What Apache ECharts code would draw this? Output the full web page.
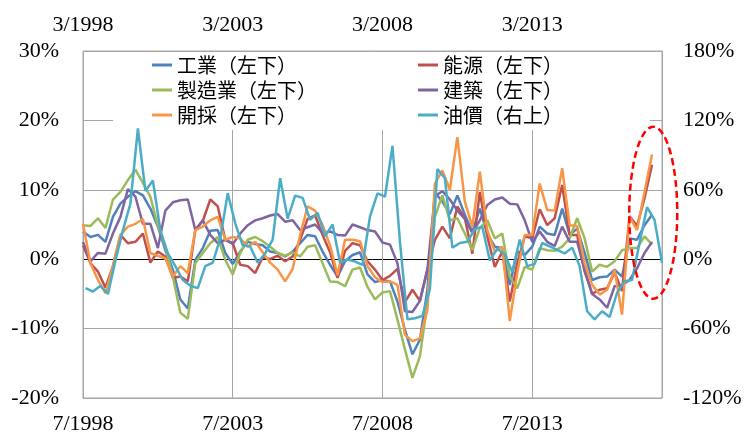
<!DOCTYPE html>
<html>
<head>
<meta charset="utf-8">
<script src="https://cdn.jsdelivr.net/npm/echarts@6/dist/echarts.min.js"></script>
<style>
  html, body { margin: 0; padding: 0; background: #fff; }
  #chart { width: 747px; height: 436px; }
</style>
</head>
<body>
<div id="chart"></div>
<script>
// Quarterly observation dates ("YYYY/M")
function quarterDates(year, month, count) {
  const out = [];
  for (let k = 0; k < count; k++) {
    out.push(year + '/' + month);
    month += 3;
    if (month > 12) { month -= 12; year += 1; }
  }
  return out;
}
const industryDates = quarterDates(1998, 7, 77); // 1998/7 .. 2017/7 (bottom axis)
const oilDates = quarterDates(1998, 4, 78);      // 1998/4 .. 2017/7 (top axis)

const bottomTickLabels = ['7/1998', '7/2003', '7/2008', '7/2013'];
const topTickLabels = ['3/1998', '3/2003', '3/2008', '3/2013'];

const seriesNames = ['工業（左下）', '能源（左下）', '製造業（左下）', '建築（左下）', '開採（左下）', '油價（右上）'];

// Year-over-year growth, %
const industrial = [4.0,3.2,3.5,2.5,6.1,8.0,9.0,9.8,9.2,7.3, 4.7,1.3,-1.5,-5.8,-7.1,-0.1,1.6,4.1,4.2,0.9,
  -0.7,1.1,2.5,2.2,2.0,1.1,0.9,0.4,1.1,2.3, 3.5,3.3,1.1,-0.8,-2.5,-0.3,0.6,1.0,-2.2,-3.3,
  -3.0,-3.2,-6.1,-10.2,-13.7,-11.6,-4.4,9.6,8.3,6.5, 9.2,6.4,3.9,7.3,3.7,1.8,1.6,-3.7,1.1,0.6,
  1.8,4.7,3.7,3.5,7.3,3.5,4.4,0.9,-3.0,-2.6, -2.5,-1.5,-2.5,3.0,2.8,4.9,6.4];
const energy = [2.0,-0.6,-1.8,-4.1,-1.0,3.5,2.3,2.5,3.7,-0.5, 1.1,0.4,-2.7,-2.5,-3.2,4.2,5.5,8.6,7.6,2.8,
  2.3,-0.8,-1.0,-2.0,0.3,0.0,0.5,-0.3,0.4,2.8, 5.8,6.3,3.5,1.0,-2.7,1.2,2.3,2.0,-0.3,-1.5,
  -3.0,-2.4,-1.4,-6.2,-4.4,-6.0,-1.5,2.8,4.7,3.0, 7.6,5.9,0.8,9.7,3.3,-1.1,1.1,-6.1,-0.6,3.3,
  3.0,7.2,4.9,5.9,10.7,3.5,3.5,-1.8,-5.0,-4.4, -4.2,-1.9,-4.6,6.2,4.8,8.8,13.6];
const manufacturing = [4.9,4.8,5.9,4.5,8.6,9.7,11.4,12.9,11.0,9.0, 4.8,1.8,-2.5,-7.7,-8.6,-0.6,0.9,2.3,3.2,-0.1,
  -2.2,0.9,2.8,3.2,2.6,1.8,0.9,0.5,1.0,0.4, 1.8,2.0,-0.6,-3.2,-3.3,-3.9,-1.5,-1.2,-4.0,-5.8,
  -4.8,-4.6,-8.7,-13.0,-17.1,-14.0,-6.3,6.1,9.2,5.6, 5.9,3.7,1.3,4.5,5.6,3.0,3.7,-2.5,-4.2,-1.1,
  -1.5,1.6,1.3,1.2,1.8,3.0,5.9,3.0,-1.8,-0.8, -1.1,-0.3,1.3,1.6,1.6,3.3,2.1];
const construction = [2.5,-0.3,0.9,0.8,3.7,6.1,10.1,9.0,5.1,5.1, 1.6,7.0,8.2,8.5,8.6,4.2,5.6,3.5,2.3,2.8,
  2.2,3.7,4.9,5.6,5.9,6.3,6.5,5.4,5.6,4.2, 4.6,5.0,3.8,4.0,3.5,3.4,5.0,4.6,4.2,4.0,
  2.4,2.1,-0.6,-7.5,-7.6,-6.0,-1.5,9.1,9.8,8.6, 7.0,5.8,3.8,5.6,7.8,8.6,8.9,8.0,7.9,5.6,
  2.5,4.0,2.5,1.9,4.7,2.5,2.5,-1.5,-5.0,-5.8, -7.0,-3.9,-3.7,-3.0,-1.3,0.9,2.5];
const mining = [5.1,-0.6,-3.0,-4.9,-1.0,3.5,4.7,5.1,5.8,0.9, 0.5,0.1,-2.5,-1.0,-2.0,4.2,4.7,5.6,6.1,2.8,
  3.2,3.0,1.8,2.5,1.0,-0.5,-1.5,-3.2,-1.4,3.5, 7.6,7.0,4.9,2.0,-2.3,2.8,2.8,2.6,-1.0,-2.6,
  -3.3,-3.2,-3.7,-10.9,-11.8,-11.4,-7.3,10.9,12.8,10.0, 17.6,8.3,4.7,12.6,4.2,1.1,1.8,-8.9,-2.0,3.5,
  3.5,10.9,7.1,7.0,13.1,4.9,4.8,-0.6,-3.7,-5.1, -4.4,-1.5,-8.0,6.1,4.2,9.7,15.1];
const oilPrice = [-25,-28,-23,-30,-1,25,48,113,59,68, 25,5,-6,-18,-23,-25,-6,-3,18,57,
  31,12,11,-3,5,17,70,35,55,53, 34,40,20,30,-3,0,-2,-5,37,57,
  54,98,15,-52,-51,-49,-26,78,70,10, 14,15,26,28,-1,9,4,-11,17,-6,
  -4,14,11,8,5,10,-6,-45,-52,-45, -50,-29,-19,-18,14,45,34,-3];

const colors = ['#4F81BD', '#C0504D', '#9BBB59', '#8064A2', '#F79646', '#4BACC6'];

// months elapsed since an axis origin
function monthsFrom(dateStr, originYear, originMonth) {
  const [y, m] = dateStr.split('/').map(Number);
  return (y - originYear) * 12 + (m - originMonth);
}
function pairs(dates, values, oy, om) {
  return values.map((v, k) => [monthsFrom(dates[k], oy, om), v]);
}

const serifFont = 'Liberation Serif';
const gridGray = '#a6a6a6';

function lineSeries(name, values, idx) {
  return {
    name: name, type: 'line', xAxisIndex: 0, yAxisIndex: 0,
    data: pairs(industryDates, values, 1998, 7),
    symbol: 'none', lineStyle: { width: 2.5, color: colors[idx] }, itemStyle: { color: colors[idx] },
    animation: false
  };
}

const chart = echarts.init(document.getElementById('chart'), null, { renderer: 'canvas' });

const legendText = { fontFamily: 'Noto Sans CJK TC', fontSize: 20, color: '#000' };
const legendBase = {
  orient: 'vertical', top: 55, itemGap: 5, itemWidth: 20, itemHeight: 3, icon: 'rect',
  padding: 0, selectedMode: false, textStyle: legendText
};

chart.setOption({
  animation: false,
  grid: { left: 83, right: 85, top: 51, bottom: 38, show: true, borderColor: gridGray, borderWidth: 1 },
  legend: [
    Object.assign({}, legendBase, { left: 152, data: [seriesNames[0], seriesNames[2], seriesNames[4]] }),
    Object.assign({}, legendBase, { left: 418, data: [seriesNames[1], seriesNames[3], seriesNames[5]] })
  ],
  xAxis: [
    {
      type: 'value', position: 'bottom', min: 0, max: 232, interval: 60,
      axisLine: { show: false, onZero: false }, axisTick: { show: false },
      axisLabel: {
        margin: 15, fontFamily: serifFont, fontSize: 22, color: '#000', showMaxLabel: false,
        formatter: v => (v % 60 === 0 && bottomTickLabels[v / 60]) ? bottomTickLabels[v / 60] : ''
      },
      splitLine: { show: true, lineStyle: { color: gridGray, width: 1 } }
    },
    {
      type: 'value', position: 'top', min: 0, max: 232, interval: 60,
      axisLine: { show: false, onZero: false }, axisTick: { show: false },
      axisLabel: {
        margin: 15, fontFamily: serifFont, fontSize: 22, color: '#000', showMaxLabel: false,
        formatter: v => (v % 60 === 0 && topTickLabels[v / 60]) ? topTickLabels[v / 60] : ''
      },
      splitLine: { show: false }
    }
  ],
  yAxis: [
    {
      type: 'value', position: 'left', min: -20, max: 30, interval: 10,
      axisLine: { show: false, onZero: false }, axisTick: { show: false },
      axisLabel: { margin: 24, fontFamily: serifFont, fontSize: 22, color: '#000', formatter: '{value}%' },
      splitLine: { show: true, lineStyle: { color: [gridGray, gridGray, '#000', gridGray, gridGray, gridGray], width: 1 } }
    },
    {
      type: 'value', position: 'right', min: -120, max: 180, interval: 60,
      axisLine: { show: false, onZero: false }, axisTick: { show: false },
      axisLabel: { margin: 21, fontFamily: serifFont, fontSize: 22, color: '#000', formatter: '{value}%' },
      splitLine: { show: false }
    }
  ],
  graphic: [
    { id: 'legendBox', type: 'rect', z: 1, shape: { x: 113, y: 52, width: 537, height: 78 }, style: { fill: '#fff' } }
  ],
  series: [
    lineSeries(seriesNames[0], industrial, 0),
    lineSeries(seriesNames[1], energy, 1),
    lineSeries(seriesNames[2], manufacturing, 2),
    lineSeries(seriesNames[3], construction, 3),
    lineSeries(seriesNames[4], mining, 4),
    {
      name: seriesNames[5], type: 'line', xAxisIndex: 1, yAxisIndex: 1,
      data: pairs(oilDates, oilPrice, 1998, 3),
      symbol: 'none', lineStyle: { width: 2.5, color: colors[5] }, itemStyle: { color: colors[5] },
      animation: false
    }
  ]
});

// dashed ellipse around the latest readings
const c = chart.convertToPixel({ xAxisIndex: 0, yAxisIndex: 0 }, [228.5, 6.7]);
chart.setOption({
  graphic: [
    { id: 'legendBox', type: 'rect', z: 1, shape: { x: 113, y: 52, width: 537, height: 78 }, style: { fill: '#fff' } },
    { id: 'highlight', type: 'ellipse', z: 10, shape: { cx: c[0], cy: c[1], rx: 24, ry: 86 },
      style: { fill: 'none', stroke: '#ff0000', lineWidth: 2.5, lineDash: [7, 4] } }
  ]
});
</script>
</body>
</html>
